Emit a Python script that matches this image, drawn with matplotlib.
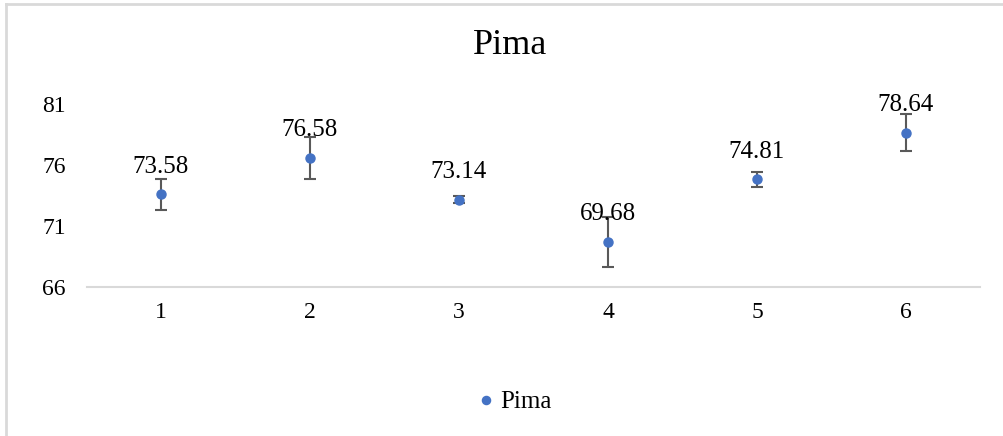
import matplotlib
matplotlib.use("Agg")
import matplotlib.pyplot as plt
from matplotlib.lines import Line2D

# values
groups = [1, 2, 3, 4, 5, 6]
accuracy = [73.58, 76.58, 73.14, 69.68, 74.81, 78.64]
err = [1.27, 1.74, 0.30, 2.05, 0.60, 1.50]
yticks = [66, 71, 76, 81]

plt.rcParams['font.family'] = ['Liberation Serif', 'DejaVu Serif']

fig = plt.figure(figsize=(10.04, 4.36), dpi=100)
ax = fig.add_axes([86.5 / 1004, 149.3 / 436, 894 / 1004, 182.7 / 436])

ax.errorbar(groups, accuracy, yerr=err, fmt='none', ecolor='#595959',
            elinewidth=1.5, capsize=4, capthick=1.5, zorder=2)
ax.plot(groups, accuracy, 'o', color='#4472C4', markersize=6.5,
        label='Pima', zorder=3)

for x, v in zip(groups, accuracy):
    ax.annotate(f"{v:.2f}", (x, v), xytext=(0, 15.5), textcoords='offset points',
                ha='center', va='baseline', fontsize=18, color='black')

ax.set_xlim(0.5, 6.5)
ax.set_ylim(66, 81)
ax.set_xticks(groups)
ax.set_yticks(yticks)
ax.tick_params(axis='both', length=0, labelsize=17, colors='black')
ax.tick_params(axis='x', pad=11)
ax.tick_params(axis='y', pad=15)
for s in ['top', 'right', 'left']:
    ax.spines[s].set_visible(False)
ax.spines['bottom'].set_color('#d9d9d9')
ax.spines['bottom'].set_linewidth(1.5)

fig.text(510 / 1004, 1 - 46 / 436, 'Pima', ha='center', va='center',
         fontsize=26, color='black')

leg = fig.legend(loc='center', bbox_to_anchor=(515 / 1004, 1 - 402 / 436),
                 frameon=False, fontsize=18, handlelength=0.6,
                 handletextpad=0.25, markerscale=0.9)

# chart frame (light grey, left and top visible)
fig.add_artist(Line2D([6 / 1004, 6 / 1004], [0, 1 - 4 / 436],
                      transform=fig.transFigure, color='#d9d9d9', linewidth=2))
fig.add_artist(Line2D([6 / 1004, 1], [1 - 4 / 436, 1 - 4 / 436],
                      transform=fig.transFigure, color='#d9d9d9', linewidth=2))

fig.savefig('out.png', dpi=100)
